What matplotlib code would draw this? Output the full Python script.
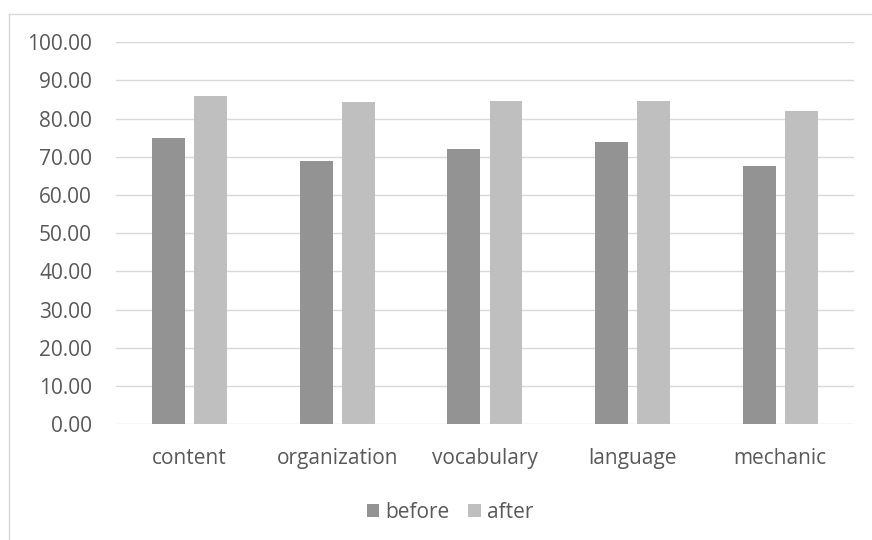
import numpy as np
import matplotlib
matplotlib.use("Agg")
import matplotlib.pyplot as plt
from matplotlib.lines import Line2D

plt.rcParams['font.family'] = ['Open Sans', 'DejaVu Sans']

# data
categories = ['content', 'organization', 'vocabulary', 'language', 'mechanic']
before = [75.0, 68.8, 72.1, 73.8, 67.7]
after = [85.9, 84.3, 84.5, 84.5, 82.1]
yticks = [0, 10, 20, 30, 40, 50, 60, 70, 80, 90, 100]

text_col = '#595959'
grid_col = '#d9d9d9'

fig = plt.figure(figsize=(8.72, 5.40), dpi=100)
ax = fig.add_axes([0.1327, 0.2143, 0.9794 - 0.1327, 0.9217 - 0.2143])

x = np.arange(len(categories))
w = 0.223
off = 0.143
ax.bar(x - off, before, w, color='#939393', label='before', zorder=3)
ax.bar(x + off, after, w, color='#bfbfbf', label='after', zorder=3)

ax.set_xlim(-0.5, len(categories) - 0.5)
ax.set_ylim(0, 100)
ax.set_yticks(yticks)
ax.set_yticklabels([f"{v:.2f}" for v in yticks])
ax.set_xticks(x)
ax.set_xticklabels(categories)

for s in ax.spines.values():
    s.set_visible(False)
ax.yaxis.grid(True, color=grid_col, linewidth=1.0, zorder=0)
ax.tick_params(axis='both', length=0, labelsize=15, labelcolor=text_col)
ax.tick_params(axis='y', pad=17)
ax.tick_params(axis='x', pad=17)

# outer chart border (only top and left visible in the crop)
fig.add_artist(Line2D([8.5 / 872, 1.0], [1 - 13.5 / 540, 1 - 13.5 / 540],
                      transform=fig.transFigure, color=grid_col, linewidth=1.0))
fig.add_artist(Line2D([8.5 / 872, 8.5 / 872], [0.0, 1 - 13.5 / 540],
                      transform=fig.transFigure, color=grid_col, linewidth=1.0))

fig.legend(loc='center', bbox_to_anchor=(450 / 872, 1 - 512 / 540), ncol=2,
           frameon=False, fontsize=15, labelcolor=text_col,
           handlelength=0.6, handleheight=0.6, handletextpad=0.3,
           columnspacing=0.9)

plt.savefig('out.png', dpi=100)
